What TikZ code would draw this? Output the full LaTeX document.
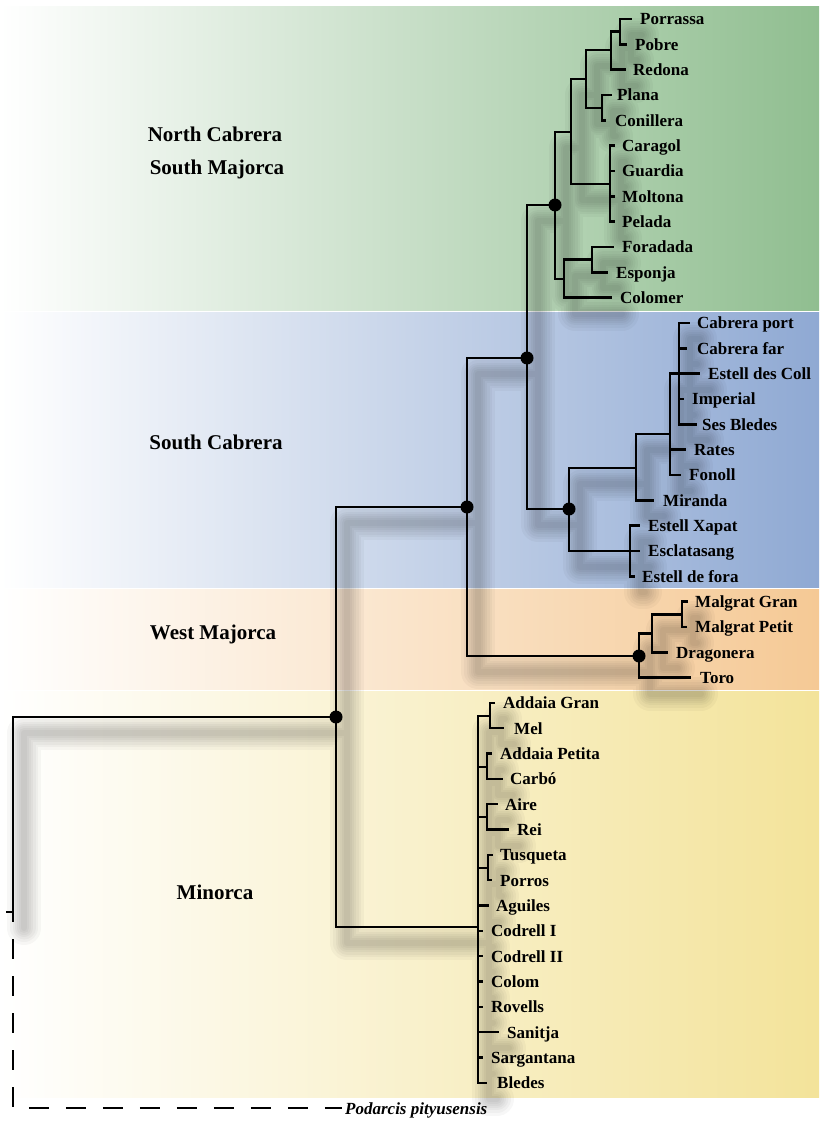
\documentclass[tikz,border=0pt]{standalone}
\usepackage{fontspec}
\setmainfont{Liberation Serif}
\definecolor{gG}{RGB}{144,190,144}
\definecolor{gB}{RGB}{143,169,211}
\definecolor{gO}{RGB}{245,201,149}
\definecolor{gY}{RGB}{243,227,154}
\tikzset{
  edge/.style={line width=2.5pt, line join=miter, line cap=rect, black},
  leaf/.style={anchor=base west, inner sep=0pt, font=\fontsize{17}{17}\bfseries\selectfont},
  region/.style={anchor=base, inner sep=0pt, font=\fontsize{21}{21}\bfseries\selectfont},
  dotnode/.style={fill=black},
  shadowline/.style={line width=#1, black, opacity=0.03, line cap=round, line join=round}
}
\newcommand\edgelist{npp/tPorr, npp/tPobre, nppr/npp, nppr/tRedona, npc/tPlana, npc/tConil, na/nppr, na/npc, ncg/tCarag, ncg/tGuard, ncg/tMolt, ncg/tPelada, nb/na, nb/ncg, nfe/tForad, nfe/tEsponja, nfec/nfe, nfec/tColomer, ntop/nb, ntop/nfec, ng/tCport, ng/tCfar, ng/tEdc, ng/tImp, ng/tSesB, nr/ng, nr/tRates, nr/tFonoll, nm/nr, nm/tMiranda, nx/tEX, nx/tEscl, nx/tEdf, nsc/nm, nsc/nx, nmid/ntop, nmid/nsc, nmg/tMG, nmg/tMP, nmd/nmg, nmd/tDrag, nwm/nmd, nwm/tToro, ncwm/nmid, ncwm/nwm, nam/tAG, nam/tMel, nac/tAP, nac/tCarbo, nar/tAire, nar/tRei, ntp/tTusq, ntp/tPorros, nmin/nam, nmin/nac, nmin/nar, nmin/ntp, nmin/tAguiles, nmin/tCodA, nmin/tCodB, nmin/tColom, nmin/tRov, nmin/tSan, nmin/tSarg, nmin/tBledes, nmain/ncwm, nmain/nmin, root/nmain}
\begin{document}
\begin{tikzpicture}[x=1pt,y=-1pt]
\useasboundingbox (0,0) rectangle (819,1121);
\fill[white] (0,0) rectangle (819,1121);
% bands
\fill[left color=white, right color=gG] (0,7) rectangle (819,310);
\fill[left color=white, right color=gB] (0,312) rectangle (819,587);
\fill[left color=white, right color=gO] (0,589) rectangle (819,689);
\fill[left color=white, right color=gY] (0,691) rectangle (819,1097);
% internal nodes
\coordinate (npp) at (620,31.6);
\coordinate (nppr) at (611,50);
\coordinate (npc) at (602,108);
\coordinate (na) at (586,79);
\coordinate (ncg) at (610,184);
\coordinate (nb) at (571,132);
\coordinate (nfe) at (592,259.6);
\coordinate (nfec) at (564,279);
\coordinate (ntop) at (555,205);
\coordinate (ng) at (679,373.6);
\coordinate (nr) at (670,434);
\coordinate (nm) at (636,468);
\coordinate (nx) at (630,551);
\coordinate (nsc) at (569,509);
\coordinate (nmid) at (527,358);
\coordinate (nmg) at (682,614.3);
\coordinate (nmd) at (652,633.3);
\coordinate (nwm) at (639,656);
\coordinate (ncwm) at (467,507);
\coordinate (nam) at (490,716);
\coordinate (nac) at (487,767);
\coordinate (nar) at (487,817);
\coordinate (ntp) at (488,868);
\coordinate (nmin) at (478,927);
\coordinate (nmain) at (336,717);
\coordinate (root) at (13,912);
\coordinate (rootstub) at (7,912);
% leaves: name / index / tip x / label x / text
\foreach \nm/\i/\tx/\lx/\lab in {
 Porr/0/631/640/Porrassa, Pobre/1/626/635/Pobre, Redona/2/625/633/Redona,
 Plana/3/611/617/Plana, Conil/4/605/615/Conillera, Carag/5/614/622/Caragol,
 Guard/6/614/622/Guardia, Molt/7/614/622/Moltona, Pelada/8/614/622/Pelada,
 Forad/9/613/622/Foradada, Esponja/10/607/616/Esponja, Colomer/11/611/620/Colomer,
 Cport/12/689/697/Cabrera port, Cfar/13/686/697/Cabrera far, Edc/14/699/708/Estell des Coll,
 Imp/15/683/692/Imperial, SesB/16/696/702/Ses Bledes, Rates/17/685/694/Rates,
 Fonoll/18/680/689/Fonoll, Miranda/19/653/663/Miranda, EX/20/639/648/Estell Xapat,
 Escl/21/639/648/Esclatasang, Edf/22/634/642/Estell de fora,
 MG/23/687/695/Malgrat Gran, MP/24/686/695/Malgrat Petit, Drag/25/667/676/Dragonera,
 Toro/26/690/700/Toro, AG/27/494/503/Addaia Gran, Mel/28/503/514/Mel,
 AP/29/491/500/Addaia Petita, Carbo/30/502/510/Carbó, Aire/31/497/505/Aire,
 Rei/32/508/517/Rei, Tusq/33/492/500/Tusqueta, Porros/34/491/500/Porros,
 Aguiles/35/488/496/Aguiles, CodA/36/482/491/Codrell I, CodB/37/482/491/Codrell II,
 Colom/38/482/491/Colom, Rov/39/482/491/Rovells, San/40/498/507/Sanitja,
 Sarg/41/482/491/Sargantana, Bledes/42/486/497/Bledes}{
  \coordinate (t\nm) at (\tx,{19+25.33*\i});
  \node[leaf] (l\nm) at (\lx,{25+25.33*\i}) {\lab};
}
\coordinate (tPod) at (342,1108.2);
\node[leaf, font=\fontsize{17}{17}\bfseries\itshape\selectfont] (lPod) at (345,1114.2) {Podarcis pityusensis};
% soft drop shadows (one path per layer, so overlaps do not darken)
\begin{scope}[transform canvas={shift={(11,16)}}]
  \foreach \w in {34,28,23,18,14,10,6}{
    \draw[shadowline=\w pt] \foreach \p/\c in \edgelist {(\p) |- (\c)};
  }
\end{scope}
% tree
\foreach \p/\c in \edgelist {\draw[edge] (\p) |- (\c);}
\draw[edge] (rootstub) -- (root);
\draw[edge, line cap=butt, dash pattern=on 20pt off 17pt, dash phase=10pt] (root) |- (tPod);
% dots
\foreach \d in {ntop,nmid,nsc,ncwm,nwm,nmain}{\fill[dotnode] (\d) circle (6.5pt);}
% region labels
\node[region] (rNC) at (215,142) {North Cabrera};
\node[region] (rSM) at (217,174) {South Majorca};
\node[region] (rSC) at (216,449) {South Cabrera};
\node[region] (rWM) at (213,639) {West Majorca};
\node[region] (rMi) at (215,899) {Minorca};
\end{tikzpicture}
\end{document}
